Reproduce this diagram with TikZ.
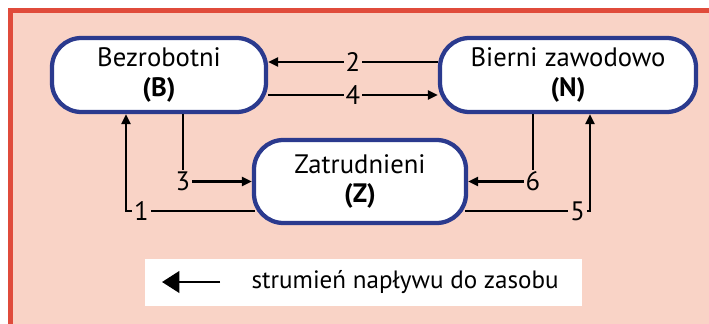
\documentclass[tikz,border=0pt]{standalone}
\usepackage{fontspec}
\setmainfont{PT Sans}
\usetikzlibrary{arrows.meta,calc}

\definecolor{tlo}{HTML}{F9D3C6}
\definecolor{ramka}{HTML}{E04B3B}
\definecolor{granat}{HTML}{2B3A8E}

\tikzset{
  zasob/.style={draw=granat, fill=white, line width=3.2pt, rounded corners=22pt,
    align=center, inner sep=0pt, font=\fontsize{20}{22}\selectfont},
  nr/.style={fill=tlo, inner sep=1.5pt, font=\fontsize{20}{20}\selectfont},
}

\begin{document}
\begin{tikzpicture}[x=0.75pt, y=-0.75pt, line width=1.7pt,
    >={Triangle[length=7.5pt,width=6.75pt]}]
        \useasboundingbox (0,0) rectangle (709,324);

        % Tlo i ramka
        \fill[tlo] (10,10) rectangle (709,324);
        \draw[ramka, line width=3.2pt] (10.5,324) -- (10.5,10.5) -- (709,10.5);

        % Zasoby
        \node[zasob, minimum width=160.5pt, minimum height=55.5pt] (B) at (159,75) {Bezrobotni\\\textbf{(B)}};
        \node[zasob, minimum width=192pt, minimum height=55.5pt] (N) at (568,75) {Bierni zawodowo\\\textbf{(N)}};
        \node[zasob, minimum width=159pt, minimum height=62.25pt] (Z) at (360,181.5) {Zatrudnieni\\\textbf{(Z)}};

        % Strumienie miedzy zasobami
        \draw[->] ($(N.west)+(0,-13)$) -- node[nr]{2} ($(B.east)+(0,-13)$);
        \draw[->] ($(B.east)+(0,20)$) -- node[nr]{4} ($(N.west)+(0,20)$);
        \draw[->] ($(B.south)+(24,0)$) |- node[nr]{3} (Z.west);
        \draw[->] ($(N.south)+(-35,0)$) |- node[nr]{6} (Z.east);
        \draw[->] ($(Z.west)+(3,29.5)$) -| node[nr, pos=0.44]{1} ($(B.south)+(-33,0)$);
        \draw[->] ($(Z.east)+(-3,29.5)$) -| node[nr, pos=0.45]{5} ($(N.south)+(22,0)$);

        % Legenda
        \node[fill=white, minimum width=327.75pt, minimum height=35.25pt, inner sep=0pt] (leg) at (363.5,282.5) {};
        \node[anchor=west, font=\fontsize{18.8}{19}\selectfont] (opis) at (246,282) {strumień napływu do zasobu};
        \coordinate (s1) at (220,282);
        \coordinate (s2) at (162,282);
        \draw[-{Triangle[length=13pt,width=16pt]}, line width=2.2pt] (s1) -- (s2);
      \end{tikzpicture}
\end{document}
